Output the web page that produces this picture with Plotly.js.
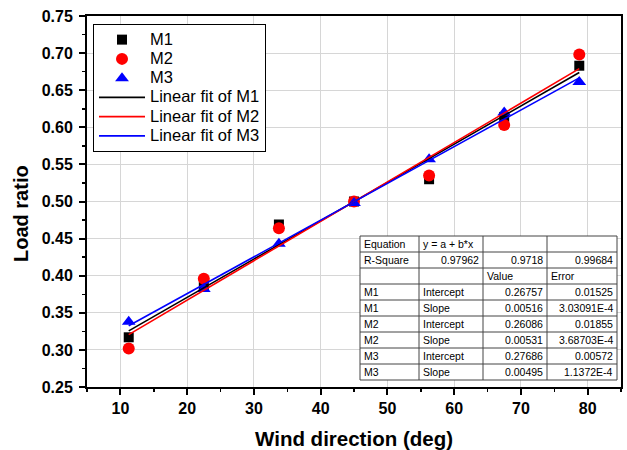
<!DOCTYPE html>
<html><head><meta charset="utf-8">
<script src="https://cdn.plot.ly/plotly-3.0.1.min.js"></script>
<style>html,body{margin:0;padding:0;background:#fff}#chart{width:627px;height:450px}</style>
</head><body><div id="chart"></div>
<script>
// ---- data ----
const windDirection = [11.25, 22.5, 33.75, 45, 56.25, 67.5, 78.75];
const loadM1 = [0.317, 0.385, 0.469, 0.500, 0.530, 0.614, 0.683];
const loadM2 = [0.302, 0.396, 0.464, 0.500, 0.535, 0.603, 0.698];
const loadM3 = [0.338, 0.382, 0.443, 0.498, 0.557, 0.620, 0.661];
const seriesNames = ['M1', 'M2', 'M3'];
const fitIntercept = [0.26757, 0.26086, 0.27686];
const fitInterceptErr = [0.01525, 0.01855, 0.00572];
const fitSlope = [0.00516, 0.00531, 0.00495];
const fitSlopeErr = [3.03091e-4, 3.68703e-4, 1.1372e-4];
const fitRSquare = [0.97962, 0.9718, 0.99684];
const equationText = 'y = a + b*x';
const xTitle = 'Wind direction (deg)';
const yTitle = 'Load ratio';

// ---- styling ----
const FONT = 'Liberation Sans, Arial, sans-serif';
const colors = ['#000000', '#ff0000', '#0000ff'];
const symbols = ['square', 'circle', 'triangle-up'];
const sizes = [10, 12, 12];
const loads = [loadM1, loadM2, loadM3];
const legendName = s => '<span style="font-size:16.5px">' + s + '</span>';

const traces = [];
for (let i = 0; i < 3; i++) {
  traces.push({
    type: 'scatter', mode: 'markers', name: legendName(seriesNames[i]),
    x: windDirection, y: loads[i],
    marker: {symbol: symbols[i], size: sizes[i], color: colors[i]}
  });
}
const xMin = Math.min(...windDirection), xMax = Math.max(...windDirection);
for (let i = 0; i < 3; i++) {
  traces.push({
    type: 'scatter', mode: 'lines', name: legendName('Linear fit of ' + seriesNames[i]),
    x: [xMin, xMax],
    y: [fitIntercept[i] + fitSlope[i] * xMin, fitIntercept[i] + fitSlope[i] * xMax],
    line: {color: colors[i], width: 1.6}
  });
}

// ---- fit-result table (shapes + annotations) ----
function fmt(v) {
  if (typeof v === 'string') return v;
  if (Math.abs(v) < 0.001) return v.toExponential().replace('e', 'E');
  return String(v);
}
const tableRows = [
  ['Equation', equationText, '', ''],
  ['R-Square', fitRSquare[0], fitRSquare[1], fitRSquare[2]],
  ['', '', 'Value', 'Error']
];
for (let i = 0; i < 3; i++) {
  tableRows.push([seriesNames[i], 'Intercept', fitIntercept[i], fitInterceptErr[i]]);
  tableRows.push([seriesNames[i], 'Slope', fitSlope[i], fitSlopeErr[i]]);
}

const L = 87, R = 621, T = 16, B = 387;
const px = p => (p - L) / (R - L);
const py = p => (B - p) / (B - T);
const colEdges = [360, 419, 483, 547, 617];
const tableTop = 236, rowH = 16;
const nRows = tableRows.length;
const tableBottom = tableTop + nRows * rowH;

const shapes = [];
const annotations = [];
const lineStyle = {color: '#444444', width: 1};
shapes.push({type: 'rect', xref: 'paper', yref: 'paper',
  x0: px(colEdges[0]), x1: px(colEdges[4]), y0: py(tableBottom), y1: py(tableTop),
  fillcolor: '#ffffff', line: lineStyle, layer: 'above'});
for (let r = 1; r < nRows; r++) {
  const yy = py(tableTop + r * rowH);
  shapes.push({type: 'line', xref: 'paper', yref: 'paper', x0: px(colEdges[0]), x1: px(colEdges[4]),
    y0: yy, y1: yy, line: lineStyle, layer: 'above'});
}
for (let c = 1; c < 4; c++) {
  shapes.push({type: 'line', xref: 'paper', yref: 'paper', x0: px(colEdges[c]), x1: px(colEdges[c]),
    y0: py(tableBottom), y1: py(tableTop), line: lineStyle, layer: 'above'});
}
for (let r = 0; r < nRows; r++) {
  for (let c = 0; c < 4; c++) {
    const v = tableRows[r][c];
    if (v === '') continue;
    const isNum = typeof v === 'number';
    annotations.push({
      xref: 'paper', yref: 'paper', showarrow: false,
      x: isNum ? px(colEdges[c + 1] - 2) : px(colEdges[c] + 2),
      xanchor: isNum ? 'right' : 'left',
      y: py(tableTop + r * rowH + rowH / 2), yanchor: 'middle',
      text: fmt(v), font: {family: FONT, size: 10.5, color: '#000000'}
    });
  }
}
// y-axis title as annotation (placed like the reference)
annotations.push({
  xref: 'paper', yref: 'paper', showarrow: false,
  x: px(21), y: py(214), xanchor: 'center', yanchor: 'middle', textangle: -90,
  text: yTitle, font: {family: FONT, size: 20, color: '#000000', weight: 'bold'}
});

const axisCommon = {
  showline: true, linecolor: '#000000', linewidth: 2, mirror: true,
  ticks: 'outside', ticklen: 6, tickwidth: 2, tickcolor: '#000000',
  showgrid: true, gridcolor: '#d6d6d6', gridwidth: 1, zeroline: false,
  tickfont: {family: FONT, size: 16, color: '#000000', weight: 'bold'}
};

const layout = {
  width: 627, height: 450,
  margin: {l: L, r: 627 - R, t: T, b: 450 - B},
  paper_bgcolor: '#ffffff', plot_bgcolor: '#ffffff',
  font: {family: FONT, color: '#000000'},
  showlegend: true,
  legend: {
    x: px(93), y: py(24), xanchor: 'left', yanchor: 'top',
    bgcolor: '#ffffff', bordercolor: '#000000', borderwidth: 1,
    font: {family: FONT, size: 12.5, color: '#000000'},
    tracegroupgap: 0, itemwidth: 46
  },
  xaxis: Object.assign({}, axisCommon, {
    range: [5, 85], tick0: 0, dtick: 10,
    minor: {dtick: 5, ticks: 'outside', ticklen: 3, tickwidth: 1.5, tickcolor: '#000000', showgrid: false},
    title: {text: xTitle, font: {family: FONT, size: 20.5, color: '#000000', weight: 'bold'}}
  }),
  yaxis: Object.assign({}, axisCommon, {
    range: [0.25, 0.75], tick0: 0.25, dtick: 0.05, tickformat: '.2f', ticklabelstandoff: 3,
    minor: {dtick: 0.025, ticks: 'outside', ticklen: 3, tickwidth: 1.5, tickcolor: '#000000', showgrid: false}
  }),
  shapes: shapes,
  annotations: annotations
};

Plotly.newPlot('chart', traces, layout, {displayModeBar: false, staticPlot: true});
</script>
</body></html>
